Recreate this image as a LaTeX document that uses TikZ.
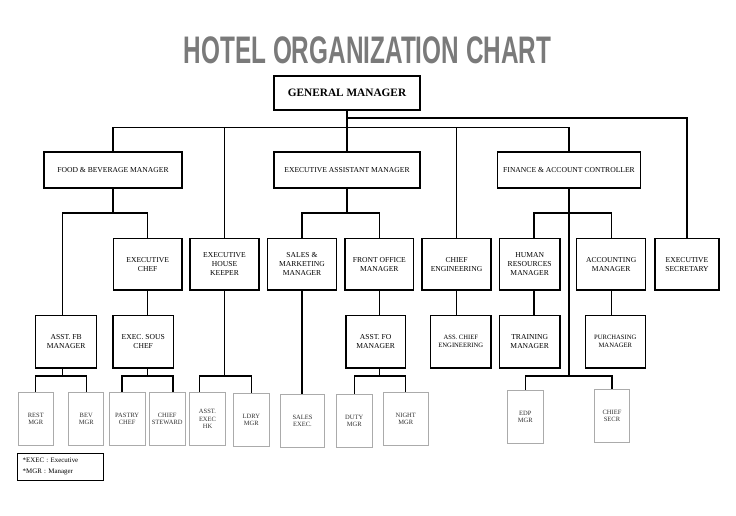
\documentclass[tikz,border=0pt]{standalone}
\usepackage{graphicx}
\usepackage{fontspec}
\setmainfont{Liberation Serif}
\setsansfont{Liberation Sans}
\definecolor{titlegray}{HTML}{7A7A7A}
\definecolor{boxgray}{HTML}{ABABAB}
\definecolor{textgray}{HTML}{303030}
\tikzset{
  mbox/.style={draw=black, line width=1.3pt, inner sep=0pt, align=center,
    font=\fontsize{7.6}{9}\selectfont},
  smallmbox/.style={mbox, font=\fontsize{6.6}{8}\selectfont},
  gbox/.style={draw=boxgray, line width=0.9pt, inner sep=0pt, align=center,
    text=textgray, font=\fontsize{6.5}{7.6}\selectfont},
  conn/.style={line width=1.3pt},
  wh/.style 2 args={minimum width=#1pt, minimum height=#2pt},
  legendbox/.style={draw=black, line width=0.9pt, inner xsep=5pt, inner ysep=0pt,
    align=left, text width=75.6pt, minimum height=26.7pt,
    font=\fontsize{6.9}{11}\selectfont}
}
\begin{document}
\begin{tikzpicture}[x=1pt,y=-1pt]
\useasboundingbox (0,0) rectangle (736,515);

% title
\node[anchor=base, text=titlegray, inner sep=0pt] (title) at (367.5,63)
  {\scalebox{0.634}[1]{\sffamily\bfseries\fontsize{38.4}{40}\selectfont HOTEL ORGANIZATION CHART}};

% level 0
\node[mbox, font=\bfseries\fontsize{11.3}{13}\selectfont, wh={146}{34}] (gm) at (347,93) {GENERAL MANAGER};

% level 1
\node[mbox, wh={138}{36}] (fb)  at (113,170) {FOOD \& BEVERAGE MANAGER};
\node[mbox, wh={146}{36}] (eam) at (347,170) {EXECUTIVE ASSISTANT MANAGER};
\node[mbox, wh={143}{36}] (fac) at (569,170) {FINANCE \& ACCOUNT CONTROLLER};

% level 2
\node[mbox, wh={68.7}{51.5}] (ec)  at (147.7,264.3) {EXECUTIVE\\CHEF};
\node[mbox, wh={69}{51.5}]   (ehk) at (224.5,264.3) {EXECUTIVE\\HOUSE\\KEEPER};
\node[mbox, wh={68.6}{51.5}] (smm) at (302,264.3)   {SALES \&\\MARKETING\\MANAGER};
\node[mbox, wh={68.7}{51.5}] (fom) at (379.3,264.3) {FRONT OFFICE\\MANAGER};
\node[mbox, wh={69}{51.5}]   (ce)  at (456.5,264.3) {CHIEF\\ENGINEERING};
\node[mbox, wh={60.7}{51.5}] (hrm) at (529.7,264.3) {HUMAN\\RESOURCES\\MANAGER};
\node[mbox, wh={69}{51.5}]   (am)  at (611.2,264.3) {ACCOUNTING\\MANAGER};
\node[mbox, wh={64}{51.5}]   (es)  at (687,264.3)   {EXECUTIVE\\SECRETARY};

% level 3
\node[mbox, wh={61}{52.5}]   (afb) at (66.2,341.7)  {ASST. FB\\MANAGER};
\node[mbox, wh={60.3}{52.5}] (esc) at (143.2,341.7) {EXEC. SOUS\\CHEF};
\node[mbox, wh={59.3}{52.5}] (afo) at (375.7,341.7) {ASST. FO\\MANAGER};
\node[smallmbox, wh={60.3}{52.5}] (ace) at (460.8,341.7) {ASS. CHIEF\\ENGINEERING};
\node[mbox, wh={60.7}{52.5}] (tm)  at (529.7,341.7) {TRAINING\\MANAGER};
\node[smallmbox, wh={60}{52.5}] (pm) at (615.3,341.7) {PURCHASING\\MANAGER};

% level 4
\node[gbox, wh={35}{53}]   (rest)    at (35.8,418.9)  {REST\\MGR};
\node[gbox, wh={35}{53}]   (bev)     at (86.2,418.9)  {BEV\\MGR};
\node[gbox, wh={35.6}{53}] (pastry)  at (127.2,418.9) {PASTRY\\CHEF};
\node[gbox, wh={35.6}{53}] (steward) at (167.2,418.9) {CHIEF\\STEWARD};
\node[gbox, wh={35.6}{53}] (aehk)    at (207.5,418.9) {ASST.\\EXEC\\HK};
\node[gbox, wh={36}{53.4}] (ldry)    at (251.3,420)   {LDRY\\MGR};
\node[gbox, wh={44}{53.4}] (sales)   at (302.5,421)   {SALES\\EXEC.};
\node[gbox, wh={35.7}{53}] (duty)    at (354.2,420.8) {DUTY\\MGR};
\node[gbox, wh={44.3}{53}] (night)   at (405.8,418.8) {NIGHT\\MGR};
\node[gbox, wh={36}{53}]   (edp)     at (525.3,416.8) {EDP\\MGR};
\node[gbox, wh={35.4}{53}] (secr)    at (612,415.8)   {CHIEF\\SECR};

% legend
\node[legendbox] (legend) at (60.5,466.7) {*EXEC : Executive\\\relax *MGR : Manager};

% junction levels
\coordinate (j1) at (347,118);
\coordinate (j2) at (0,127.5);
\coordinate (j3) at (0,213);
\coordinate (h)  at (0,376);
\coordinate (afbl) at (62.3,213);
\coordinate (pl) at (122,376);
\coordinate (pr) at (173,376);
\coordinate (al) at (199.3,376);
\coordinate (hx) at (534,213);

% top connectors
\draw[conn] (gm.south) -- (eam.north);
\draw[conn] (j1) -| (es.north);
\draw[conn] (fb.north) -- (fb.north |- j2) -- (fac.north |- j2) -- (fac.north);
\draw[conn] (ehk.north |- j2) -- (ehk.north);
\draw[conn] (ce.north |- j2) -- (ce.north);

% food & beverage branch
\draw[conn] (fb.south) -- (fb.south |- j3);
\draw[conn] (afbl |- afb.north) -- (afbl) -- (ec.north |- j3) -- (ec.north);
\draw[conn] (ec.south) -- (ec.south |- esc.north);
\draw[conn] (afbl |- afb.south) -- (afbl |- h);
\draw[conn] (rest.north) -- (rest.north |- h) -- (bev.north |- h) -- (bev.north);
\draw[conn] (ec.south |- esc.south) -- (ec.south |- h);
\draw[conn] (pl |- pastry.north) -- (pl) -- (pr) -- (pr |- steward.north);

% housekeeping
\draw[conn] (ehk.south) -- (ehk.south |- h);
\draw[conn] (al |- aehk.north) -- (al) -- (ldry.north |- h) -- (ldry.north);

% executive assistant manager branch
\draw[conn] (eam.south) -- (eam.south |- j3);
\draw[conn] (smm.north) -- (smm.north |- j3) -- (fom.north |- j3) -- (fom.north);
\draw[conn] (smm.south) -- (smm.south |- sales.north);
\draw[conn] (fom.south) -- (fom.south |- afo.north);
\draw[conn] (fom.south |- afo.south) -- (fom.south |- h);
\draw[conn] (duty.north) -- (duty.north |- h) -- (night.north |- h) -- (night.north);

% engineering
\draw[conn] (ce.south) -- (ce.south |- ace.north);

% finance branch
\draw[conn] (fac.south) -- (fac.south |- h);
\draw[conn] (hx |- hrm.north) -- (hx) -- (am.north |- hx) -- (am.north);
\draw[conn] (hx |- hrm.south) -- (hx |- tm.north);
\draw[conn] (am.south) -- (am.south |- pm.north);
\draw[conn] (edp.north) -- (edp.north |- h) -- (secr.north |- h) -- (secr.north);
\end{tikzpicture}
\end{document}
